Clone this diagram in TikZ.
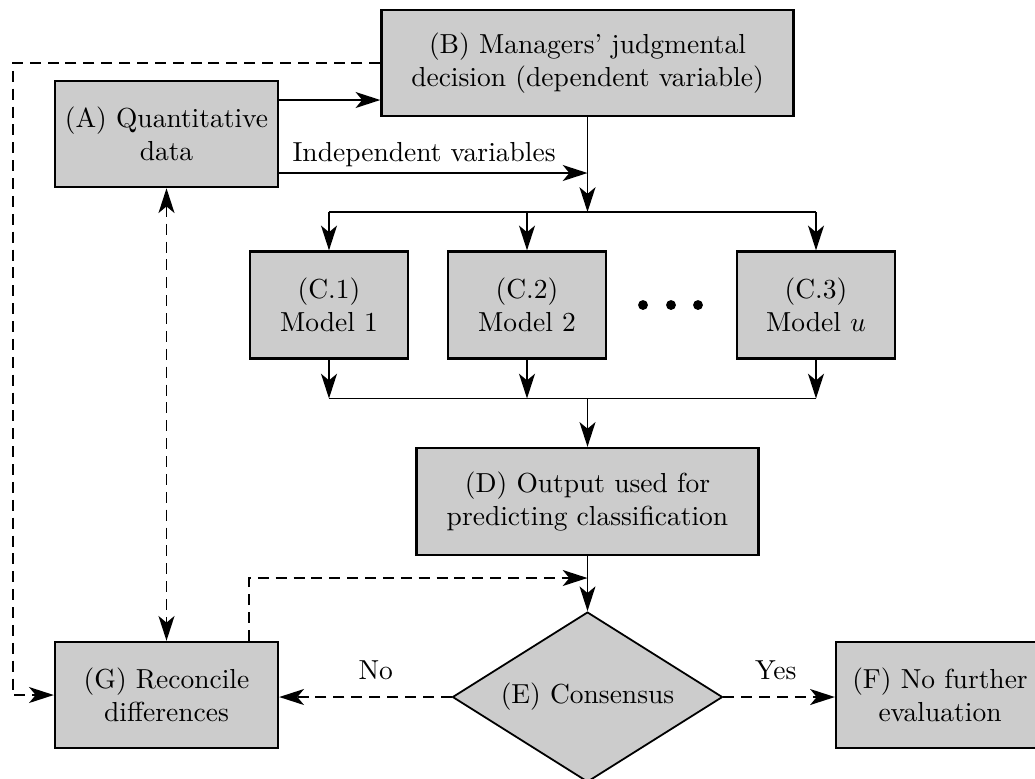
\documentclass[tikz,border=0pt]{standalone}
\usetikzlibrary{arrows.meta,shapes.geometric}
\begin{document}
\begin{tikzpicture}[x=0.3636pt, y=-0.3636pt,
  box/.style={draw, line width=0.85pt, fill=black!20, align=center, inner sep=0pt,
    minimum height=38.6pt},
  decision/.style={draw, shape=diamond, aspect=1.588, line width=0.65pt, fill=black!20, inner sep=0pt,
    minimum width=98.2pt, minimum height=61.8pt},
  link/.style={line width=0.6pt},
  arr/.style={link, -{Stealth[length=9pt,width=5.8pt,inset=2.4pt]}},
  darr/.style={arr, dash pattern=on 4pt off 2.5pt},
  both/.style={link, dash pattern=on 4pt off 2.5pt,
    {Stealth[length=9pt,width=5.8pt,inset=2.4pt]}-{Stealth[length=9pt,width=5.8pt,inset=2.4pt]}},
]
\useasboundingbox (0,0) rectangle (1035,778);
\clip (0,0) rectangle (1035,778);

% boxes
\node[box, minimum width=149.8pt] (B) at (587.5,63) {(B) Managers' judgmental\\decision (dependent variable)};
\node[box, minimum width=81.1pt] (A) at (166.5,134) {(A) Quantitative\\data};
\node[box, minimum width=57.5pt, minimum height=38.9pt] (C1) at (329,305) {(C.1)\\Model 1};
\node[box, minimum width=57.5pt, minimum height=38.9pt] (C2) at (527,305) {(C.2)\\Model 2};
\node[box, minimum width=57.5pt, minimum height=38.9pt] (C3) at (816,305) {(C.3)\\Model $u$};
\node[box, minimum width=124.4pt, minimum height=38.9pt] (D) at (587.5,501.5) {(D) Output used for\\predicting classification};
\node[decision] (E) at (587.5,697) {(E) Consensus};
\node[box, minimum width=81.1pt] (G) at (166.5,695) {(G) Reconcile\\differences};
\node[box, minimum width=75.6pt] (F) at (940,695) {(F) No further\\evaluation};

% dots between the models
\fill (643,305) circle (1.8pt);
\fill (671,305) circle (1.8pt);
\fill (698,305) circle (1.8pt);

% helper levels
\coordinate (yAB) at (0,100);
\coordinate (yI) at (0,173);
\coordinate (busT) at (0,212);
\coordinate (busB) at (0,398.5);
\coordinate (yJ) at (0,578);
\coordinate (xG) at (249,0);
\coordinate (xL) at (12.7,0);

% A to B, independent variables
\draw[arr] (A.east |- yAB) -- (B.west |- yAB);
\draw[arr] (A.east |- yI) -- node[above, pos=0.47, inner sep=2pt] {Independent variables} (B.south |- yI);

% B down to the models
\draw[arr] (B.south) -- (B.south |- busT);
\draw[link] (C1.north |- busT) -- (C3.north |- busT);
\draw[arr] (C1.north |- busT) -- (C1.north);
\draw[arr] (C2.north |- busT) -- (C2.north);
\draw[arr] (C3.north |- busT) -- (C3.north);

% models down to D
\draw[arr] (C1.south) -- (C1.south |- busB);
\draw[arr] (C2.south) -- (C2.south |- busB);
\draw[arr] (C3.south) -- (C3.south |- busB);
\draw[link] (C1.south |- busB) -- (C3.south |- busB);
\draw[arr] (D.north |- busB) -- (D.north);

% D to consensus
\draw[arr] (D.south) -- (E.north);

% feedback from G
\draw[darr] (G.north -| xG) |- (D.south |- yJ);
\draw[both] (A.south) -- (G.north);
\draw[darr] (B.west) -- (xL |- B.west) -- (xL |- G.west) -- (G.west);

% outcomes of consensus
\draw[darr] (E.west) -- node[above, pos=0.44, inner sep=6pt] {No} (E.west -| G.east);
\draw[darr] (E.east) -- node[above, pos=0.47, inner sep=6pt] {Yes} (E.east -| F.west);
\end{tikzpicture}
\end{document}
